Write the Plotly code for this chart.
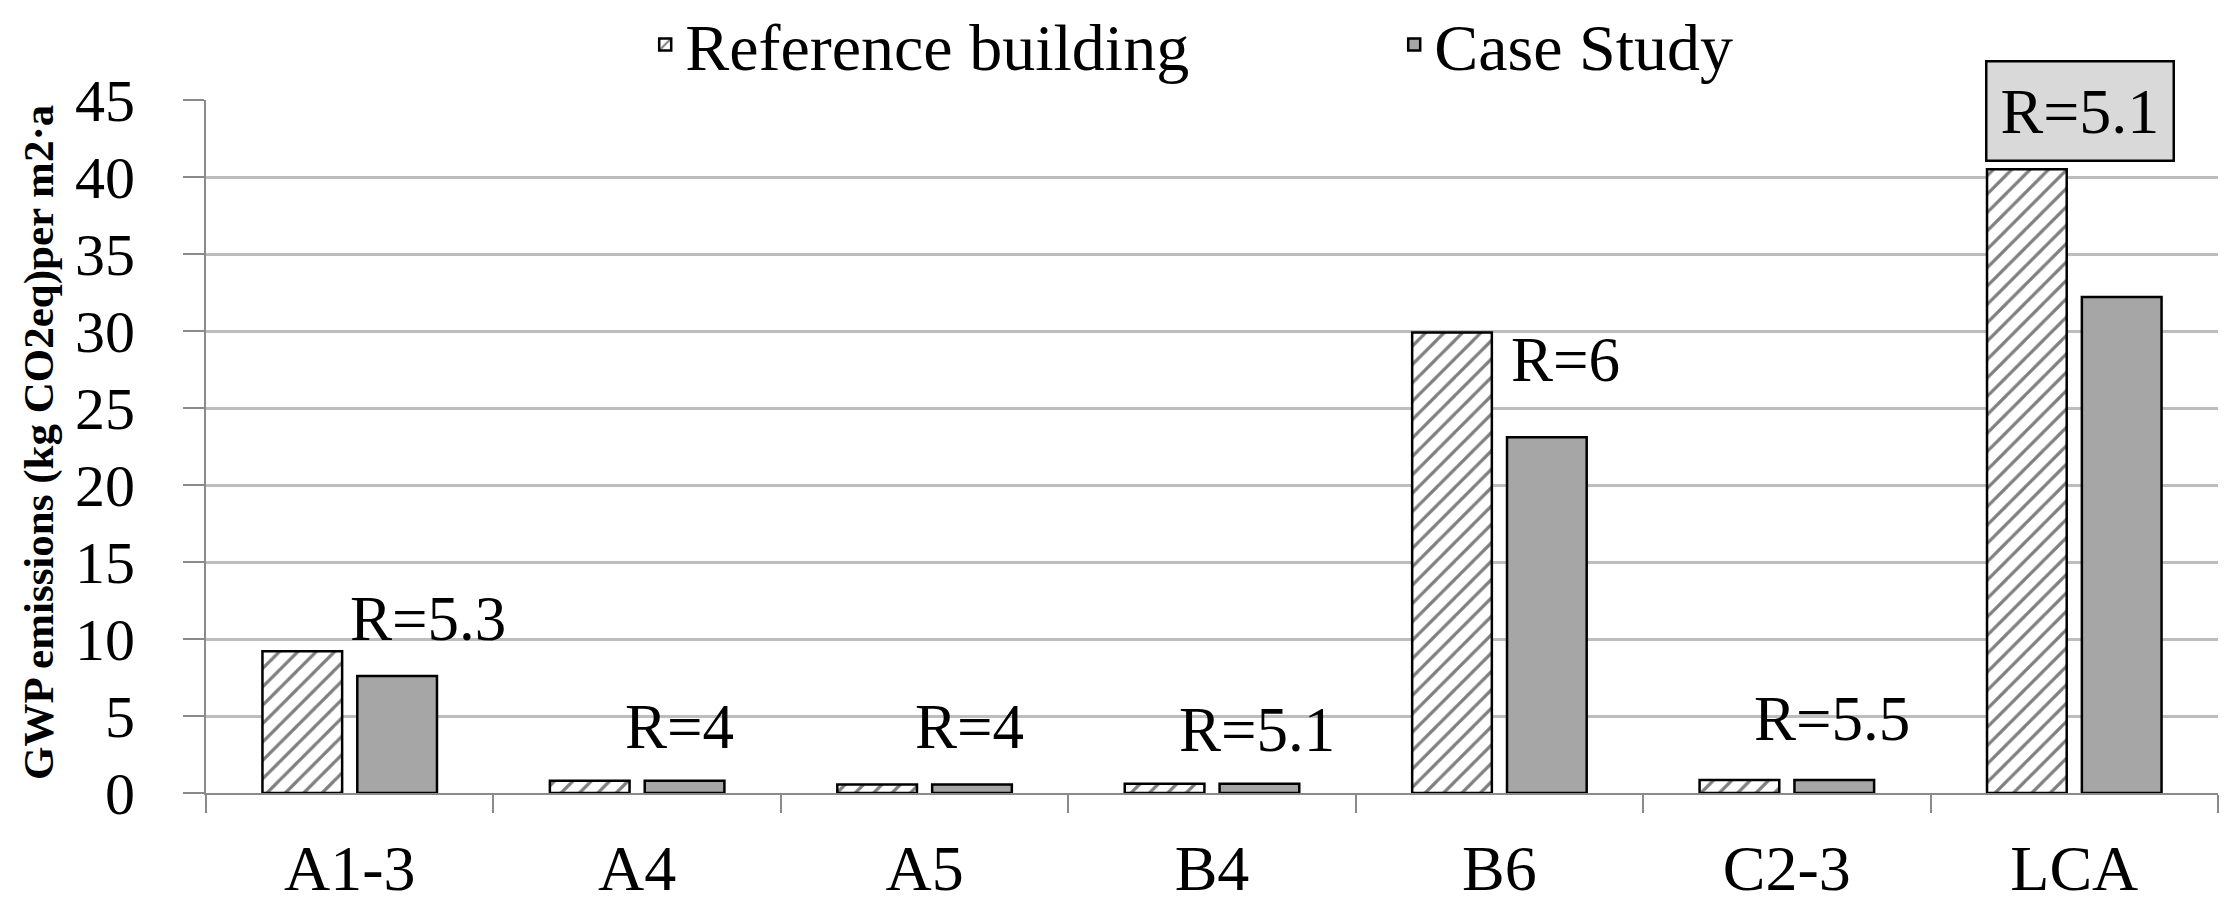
import plotly.graph_objects as go

# values
stages = ["A1-3", "A4", "A5", "B4", "B6", "C2-3", "LCA"]
reference_building = [9.2, 0.8, 0.55, 0.6, 29.9, 0.85, 40.5]
case_study = [7.6, 0.8, 0.55, 0.6, 23.1, 0.85, 32.2]
ratio_labels = ["R=5.3", "R=4", "R=4", "R=5.1", "R=6", "R=5.5", "R=5.1"]
y_ticks = [0, 5, 10, 15, 20, 25, 30, 35, 40, 45]
y_title = "GWP emissions (kg CO2eq)per m2·a"

FONT = "Liberation Serif, Times New Roman, serif"
GRID = "#bdbdbd"
AXIS = "#8a8a8a"

fig = go.Figure()

fig.add_trace(go.Bar(
    x=stages,
    y=reference_building,
    name="Reference building",
    marker=dict(
        color="white",
        line=dict(color="black", width=2.5),
        pattern=dict(shape="/", fgcolor="black", bgcolor="white", size=13, solidity=0.25),
    ),
))

fig.add_trace(go.Bar(
    x=stages,
    y=case_study,
    name="Case Study",
    marker=dict(color="#a6a6a6", line=dict(color="black", width=2.5)),
))

# where each "R=" label sits: height in axis units and shift from the category centre (px)
label_spots = [(11.3, 78), (4.3, 42), (4.3, 45), (4.1, 45), (28.1, 66), (4.8, 45), (44.3, 6)]

for stage, text, (ly, dx) in zip(stages, ratio_labels, label_spots):
    boxed = stage == "LCA"
    fig.add_annotation(
        x=stage, y=ly, xref="x", yref="y",
        text=text, showarrow=False, xshift=dx,
        font=dict(family=FONT, size=64 if boxed else 63, color="black"),
        bgcolor="#d9d9d9" if boxed else None,
        bordercolor="black" if boxed else None,
        borderwidth=2.5 if boxed else 0,
        borderpad=13 if boxed else 0,
    )

# y axis title drawn as a rotated annotation so the fixed margins hold
fig.add_annotation(
    x=-0.083, y=0.505, xref="paper", yref="paper",
    text=f"<b>{y_title}</b>", textangle=-90, showarrow=False,
    xanchor="center", yanchor="middle",
    font=dict(family=FONT, size=43, color="black"),
)

# the page body keeps its default 8px margin, so the figure is 8px smaller
fig.update_layout(
    width=2228, height=895,
    margin=dict(l=198, r=18, t=92, b=110, autoexpand=False),
    paper_bgcolor="white", plot_bgcolor="white",
    font=dict(family=FONT, color="black"),
    barmode="group", bargap=0.34, bargroupgap=0.16,
    showlegend=True,
    legend=dict(
        orientation="h", xref="container", x=0.286, xanchor="left",
        y=1.08, yanchor="middle",
        font=dict(family=FONT, size=66, color="black"),
        entrywidth=704, bgcolor="rgba(0,0,0,0)",
    ),
)

fig.update_xaxes(
    type="category", automargin=False,
    showline=True, linecolor=AXIS, linewidth=2,
    ticks="outside", tickson="boundaries", ticklen=18, tickwidth=2, tickcolor=AXIS,
    ticklabelstandoff=18,
    tickfont=dict(family=FONT, size=64, color="black"),
    showgrid=False,
)

fig.update_yaxes(
    range=[0, 45], tickvals=y_ticks, automargin=False,
    showline=True, linecolor=AXIS, linewidth=2,
    ticks="outside", ticklen=21, tickwidth=2, tickcolor=AXIS,
    ticklabelstandoff=36,
    tickfont=dict(family=FONT, size=60, color="black"),
    showgrid=True, gridcolor=GRID, gridwidth=3,
    zeroline=False,
)

fig.write_html("out.html")
